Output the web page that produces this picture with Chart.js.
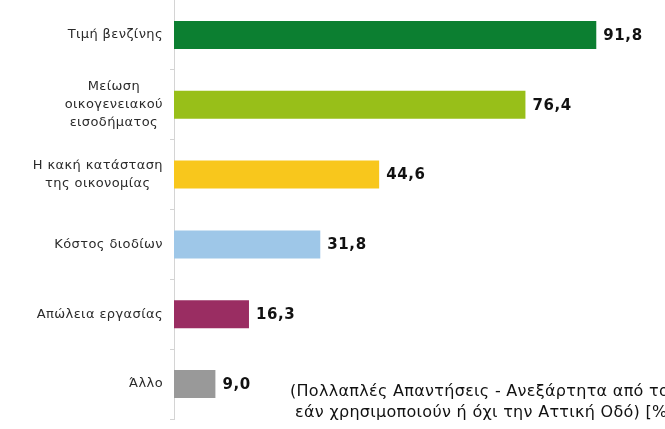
<!DOCTYPE html>
<html>
<head>
<meta charset="utf-8">
<script src="https://cdn.jsdelivr.net/npm/chart.js@4"></script>
<style>
  html, body { margin: 0; padding: 0; background: #ffffff; }
  #wrap { width: 665px; height: 429px; }
</style>
</head>
<body>
<div id="wrap"><canvas id="chart" width="665" height="429"></canvas></div>
<script>
// Δεδομένα
const categories = [
    ["Τιμή βενζίνης"],
    ["Μείωση", "οικογενειακού", "εισοδήματος"],
    ["Η κακή κατάσταση", "της οικονομίας"],
    ["Κόστος διοδίων"],
    ["Απώλεια εργασίας"],
    ["Άλλο"]
];
const values = [91.8, 76.4, 44.6, 31.8, 16.3, 9.0];
const barColors = ["#0c7f31", "#98bf19", "#f8c71c", "#9ec7e8", "#9a2d62", "#999999"];
const noteLines = [
    "(Πολλαπλές Απαντήσεις - Ανεξάρτητα από το",
    "εάν χρησιμοποιούν ή όχι την Αττική Οδό) [%]"
];

// Ετικέτες κατηγοριών (κεντραρισμένες γραμμές, δεξιά στοίχιση μπλοκ)
const categoryLabels = {
    id: "categoryLabels",
    afterDraw(chart) {
        const ctx = chart.ctx;
        const yScale = chart.scales.y;
        ctx.save();
        ctx.font = "13px 'DejaVu Sans'";
        ctx.letterSpacing = "0.4px";
        ctx.fillStyle = "#2b2b2b";
        ctx.textAlign = "center";
        ctx.textBaseline = "middle";
        const lineH = 18;
        categories.forEach((lines, i) => {
            const yc = yScale.getPixelForTick(i);
            const maxW = Math.max(...lines.map(l => ctx.measureText(l).width));
            const xc = 163 - maxW / 2;
            lines.forEach((line, j) => {
                const y = yc + (j - (lines.length - 1) / 2) * lineH;
                ctx.fillText(line, xc, y);
            });
        });
        ctx.restore();
    }
};

// Τιμές δίπλα στις μπάρες
const valueLabels = {
    id: "valueLabels",
    afterDatasetsDraw(chart) {
        const ctx = chart.ctx;
        const meta = chart.getDatasetMeta(0);
        ctx.save();
        ctx.font = "bold 15px 'DejaVu Sans'";
        ctx.letterSpacing = "0.6px";
        ctx.fillStyle = "#111111";
        ctx.textAlign = "left";
        ctx.textBaseline = "middle";
        meta.data.forEach((bar, i) => {
            const txt = values[i].toFixed(1).replace(".", ",");
            ctx.fillText(txt, bar.x + 7, bar.y + 1);
        });
        ctx.restore();
    }
};

// Σημείωση κάτω δεξιά
const noteText = {
    id: "noteText",
    afterDraw(chart) {
        const ctx = chart.ctx;
        ctx.save();
        ctx.font = "16px 'DejaVu Sans'";
        ctx.letterSpacing = "0.3px";
        ctx.fillStyle = "#111111";
        ctx.textAlign = "left";
        ctx.textBaseline = "middle";
        ctx.fillText(noteLines[0], 290, 392);
        ctx.fillText(noteLines[1], 295, 413);
        ctx.restore();
    }
};

const ctx = document.getElementById("chart").getContext("2d");
new Chart(ctx, {
    type: "bar",
    data: {
        labels: categories.map(c => c.join(" ")),
        datasets: [{
            data: values,
            backgroundColor: barColors,
            borderWidth: 0,
            barPercentage: 0.4,
            categoryPercentage: 1.0
        }]
    },
    options: {
        indexAxis: "y",
        responsive: false,
        animation: false,
        layout: { padding: { top: 0, right: 31, bottom: 10, left: 0 } },
        plugins: {
            legend: { display: false },
            tooltip: { enabled: false }
        },
        scales: {
            x: {
                display: false,
                min: 0,
                max: 100
            },
            y: {
                afterFit(scale) { scale.width = 174; },
                ticks: { display: false },
                grid: {
                    drawOnChartArea: false,
                    tickLength: 4,
                    color: "#d4d4d4"
                },
                border: { color: "#d4d4d4", width: 1 }
            }
        }
    },
    plugins: [categoryLabels, valueLabels, noteText]
});
</script>
</body>
</html>
